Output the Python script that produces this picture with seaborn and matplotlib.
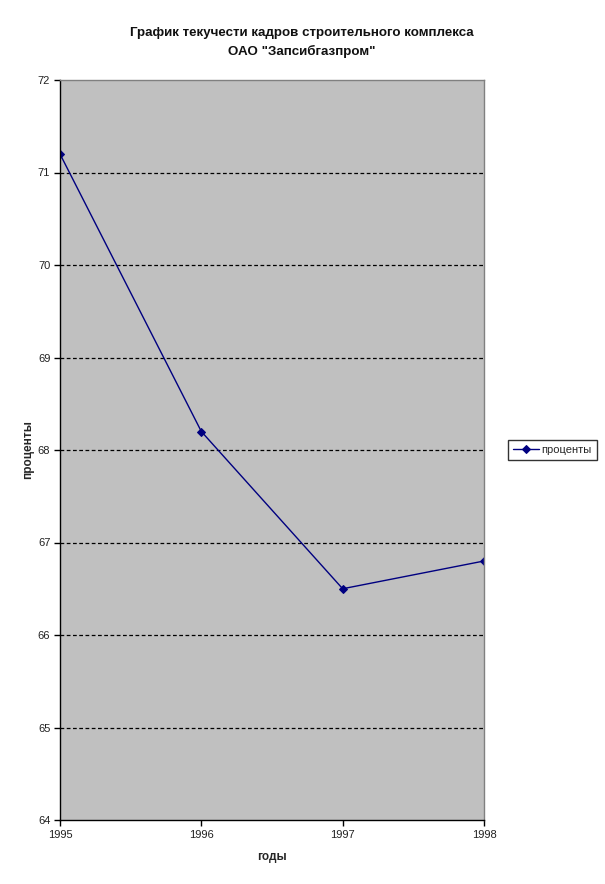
import matplotlib
matplotlib.use("Agg")
import matplotlib.pyplot as plt
import seaborn as sns
import pandas as pd

years = [1995, 1996, 1997, 1998]
values = [71.2, 68.2, 66.5, 66.8]
series_name = "проценты"
title = 'График текучести кадров строительного комплекса\nОАО "Запсибгазпром"'
xlabel = "годы"
ylabel = "проценты"
yticks = [64, 65, 66, 67, 68, 69, 70, 71, 72]

df = pd.DataFrame({"год": years, "значение": values, "серия": series_name})

sns.set_style("white")
plt.rcParams["font.family"] = ["Liberation Sans", "DejaVu Sans"]

fig = plt.figure(figsize=(6.05, 8.84), dpi=100)
ax = fig.add_axes([60/605, 1-820/884, 424/605, 740/884])
ax.set_facecolor("#c0c0c0")

sns.lineplot(data=df, x="год", y="значение", hue="серия", palette=["#000080"],
             marker="D", markersize=4.5, markeredgecolor="#000080", linewidth=1,
             ax=ax, legend=True)

ax.set_xlim(1995, 1998)
ax.set_ylim(64, 72)
ax.set_xticks(years)
ax.set_xticklabels([str(y) for y in years], fontsize=8, color="#222222")
ax.set_yticks(yticks)
ax.set_yticklabels([str(v) for v in yticks], fontsize=8, color="#222222")
for v in yticks[1:-1]:
    ax.axhline(v, color="black", linestyle=(0, (3, 2)), linewidth=0.9, zorder=1)

ax.tick_params(axis="both", direction="out", length=4, width=1, color="black", pad=3, left=True, bottom=True)
ax.spines["left"].set_color("black")
ax.spines["bottom"].set_color("black")
ax.spines["top"].set_color("#808080")
ax.spines["right"].set_color("#808080")
for s in ax.spines.values():
    s.set_linewidth(1)

ax.set_xlabel(xlabel, fontsize=8.5, fontweight="bold")
ax.xaxis.set_label_coords(272/605, 1-851/884, transform=fig.transFigure)
ax.set_ylabel(ylabel, fontsize=8.5, fontweight="bold")
ax.yaxis.set_label_coords(34/605, 1-450/884, transform=fig.transFigure)

fig.text(302/605, 1-33/884, title.split("\n")[0], ha="center", va="center", fontsize=9.6, fontweight="bold", color="#111111")
fig.text(302/605, 1-51/884, title.split("\n")[1], ha="center", va="center", fontsize=9.6, fontweight="bold", color="#111111")

leg = ax.legend(loc="center left", bbox_to_anchor=(508/605, 1-450/884), bbox_transform=fig.transFigure,
                frameon=True, fancybox=False, fontsize=8, handlelength=2.3, borderpad=0.45,
                handletextpad=0.25, borderaxespad=0)
leg.get_frame().set_edgecolor("black")
leg.get_frame().set_linewidth(1)

fig.savefig("out.png", dpi=100)
